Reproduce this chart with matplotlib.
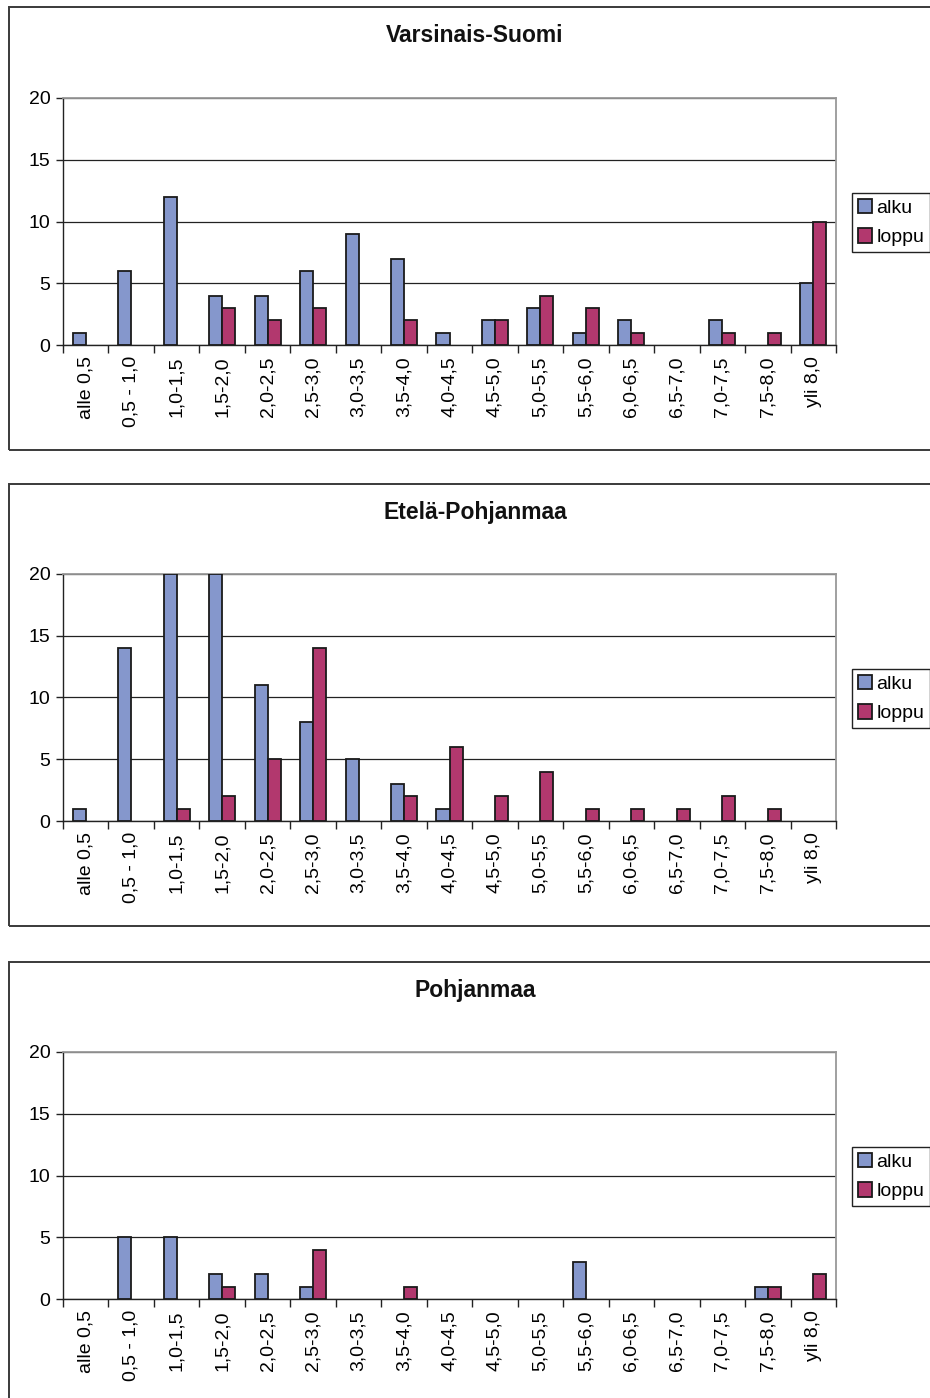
import matplotlib
matplotlib.use("Agg")
import matplotlib.pyplot as plt
from matplotlib.patches import Rectangle, Patch
import numpy as np

plt.rcParams['font.family'] = ['Liberation Sans', 'DejaVu Sans']

categories = ["alle 0,5", "0,5 - 1,0", "1,0-1,5", "1,5-2,0", "2,0-2,5", "2,5-3,0",
              "3,0-3,5", "3,5-4,0", "4,0-4,5", "4,5-5,0", "5,0-5,5", "5,5-6,0",
              "6,0-6,5", "6,5-7,0", "7,0-7,5", "7,5-8,0", "yli 8,0"]

titles = ["Varsinais-Suomi", "Etelä-Pohjanmaa", "Pohjanmaa"]
series_names = ["alku", "loppu"]

vs_alku = [1, 6, 12, 4, 4, 6, 9, 7, 1, 2, 3, 1, 2, 0, 2, 0, 5]
vs_loppu = [0, 0, 0, 3, 2, 3, 0, 2, 0, 2, 4, 3, 1, 0, 1, 1, 10]

ep_alku = [1, 14, 20, 20, 11, 8, 5, 3, 1, 0, 0, 0, 0, 0, 0, 0, 0]
ep_loppu = [0, 0, 1, 2, 5, 14, 0, 2, 6, 2, 4, 1, 1, 1, 2, 1, 0]

pm_alku = [0, 5, 5, 2, 2, 1, 0, 0, 0, 0, 0, 3, 0, 0, 0, 1, 0]
pm_loppu = [0, 0, 0, 1, 0, 4, 0, 1, 0, 0, 0, 0, 0, 0, 0, 1, 2]

yticks = [0, 5, 10, 15, 20]

panels = [(vs_alku, vs_loppu), (ep_alku, ep_loppu), (pm_alku, pm_loppu)]

COL_ALKU = "#8597CC"
COL_LOPPU = "#B2386E"
EDGE = "#1a1a1a"

W, H = 930, 1398
fig = plt.figure(figsize=(W / 100, H / 100), dpi=100)

def fx(px):
    return px / W

def fy(py):
    return 1 - py / H

# pixel layout of each panel: (box top, box bottom, plot top, plot bottom, title y, legend top)
layout = [
    (7, 450, 98, 345, 36, 193),
    (484, 926, 574, 821, 512, 669),
    (962, 1405, 1052, 1299, 990, 1147),
]

x = np.arange(len(categories))
bw = 0.286

def draw_bars(ax, xs, values, color):
    bars = ax.bar(xs, values, width=bw, color=color, edgecolor=EDGE,
                  linewidth=1.3, zorder=3)
    # empty categories show no outline
    for b, v in zip(bars, values):
        if v == 0:
            b.set_linewidth(0)

for (alku, loppu), title, (bt, bb, pt, pb, ty, lt) in zip(panels, titles, layout):
    # outer chart frame
    fig.patches.append(Rectangle((fx(9), fy(bb)), fx(W + 20 - 9), fy(bt) - fy(bb),
                                 transform=fig.transFigure, fill=False,
                                 edgecolor="#3a3a3a", linewidth=1.4, zorder=0))
    ax = fig.add_axes([fx(63), fy(pb), fx(836) - fx(63), fy(pt) - fy(pb)])
    draw_bars(ax, x - bw / 2, alku, COL_ALKU)
    draw_bars(ax, x + bw / 2, loppu, COL_LOPPU)
    ax.set_xlim(-0.5, len(categories) - 0.5)
    ax.set_ylim(0, 20)
    ax.set_yticks(yticks)
    ax.set_yticklabels([str(v) for v in yticks], fontsize=14)
    ax.yaxis.grid(True, color="#222222", linewidth=0.9, zorder=1)
    ax.set_axisbelow(True)
    ax.set_xticks(x)
    ax.set_xticklabels(categories, rotation=90, fontsize=14, va="top")
    ax.set_xticks(np.arange(-0.5, len(categories)), minor=True)
    ax.tick_params(axis="x", which="major", length=0, pad=8)
    ax.tick_params(axis="x", which="minor", length=6, width=1, color="#222222")
    ax.tick_params(axis="y", length=5, width=1, color="#222222", pad=4)
    for s in ("top", "right"):
        ax.spines[s].set_color("#999999")
        ax.spines[s].set_linewidth(1.3)
    for s in ("left", "bottom"):
        ax.spines[s].set_color("#222222")
        ax.spines[s].set_linewidth(1.0)
    fig.text(fx(475), fy(ty), title, ha="center", va="center",
             fontsize=16.5, fontweight="bold", color="#111111")
    handles = [Patch(facecolor=COL_ALKU, edgecolor=EDGE, linewidth=1.3),
               Patch(facecolor=COL_LOPPU, edgecolor=EDGE, linewidth=1.3)]
    leg = fig.legend(handles, series_names, loc="upper left",
                     bbox_to_anchor=(fx(852), fy(lt)), bbox_transform=fig.transFigure,
                     fontsize=14, frameon=True, fancybox=False, edgecolor="#222222",
                     handlelength=0.75, handleheight=0.75, handletextpad=0.2,
                     borderpad=0.3, labelspacing=0.6, borderaxespad=0,
                     framealpha=1)
    leg.get_frame().set_linewidth(1.0)

fig.savefig("out.png", dpi=100)
